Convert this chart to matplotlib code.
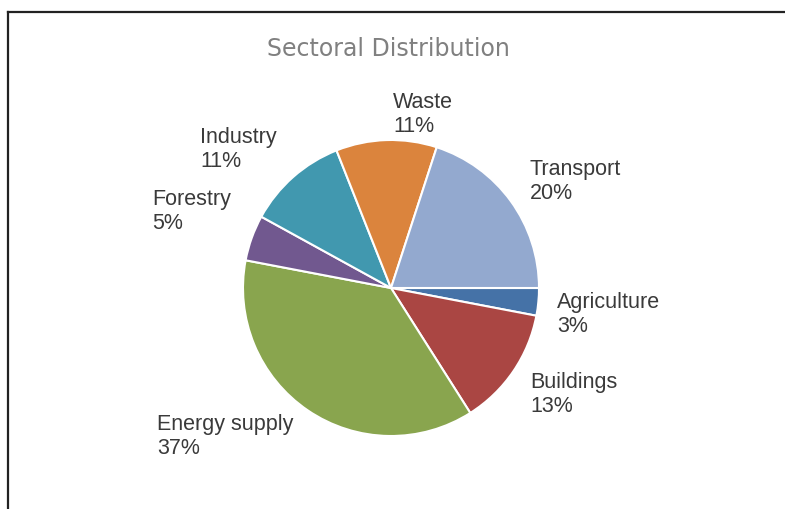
import matplotlib.pyplot as plt
from matplotlib.lines import Line2D

# sector shares, clockwise from the 3 o'clock position
sectors = ['Agriculture', 'Buildings', 'Energy supply', 'Forestry',
           'Industry', 'Waste', 'Transport']
shares = [3, 13, 37, 5, 11, 11, 20]
colors = ['#4572A7', '#AA4643', '#89A54E', '#71588F',
          '#4198AF', '#DB843D', '#93A9CF']

# label anchors (left, top) in pixels from the top-left corner
label_px = [(557, 292), (530, 372), (157, 414), (152, 189),
            (200, 127), (393, 92), (530, 159)]

W, H = 785, 509
fig = plt.figure(figsize=(W / 100, H / 100), dpi=100)
fig.patch.set_facecolor('white')

# pie centre and radius in pixels
cx, cy, r = 391, 288, 148
ax = fig.add_axes([(cx - r) / W, (H - cy - r) / H, 2 * r / W, 2 * r / H])
ax.pie(shares, colors=colors, startangle=0, counterclock=False,
       wedgeprops=dict(edgecolor='white', linewidth=1.5))
ax.set_xlim(-1, 1)
ax.set_ylim(-1, 1)
ax.set_aspect('equal')
ax.axis('off')

for name, val, (px, py) in zip(sectors, shares, label_px):
    fig.text(px / W, 1 - py / H, f'{name}\n{val}%', ha='left', va='top',
             fontsize=15.5, color='#3a3a3a', linespacing=1.2,
             family='Liberation Sans')

fig.text(388 / W, 1 - 49 / H, 'Sectoral Distribution', ha='center',
         va='center', fontsize=17, color='#808080', family='DejaVu Sans')

# frame lines on the left and top
fig.add_artist(Line2D([8 / W, 8 / W], [0, 1 - 12 / H], color='#222222',
                      linewidth=1.6, transform=fig.transFigure))
fig.add_artist(Line2D([8 / W, 1], [1 - 12 / H, 1 - 12 / H], color='#222222',
                      linewidth=1.6, transform=fig.transFigure))

fig.savefig('out.png', dpi=100)
